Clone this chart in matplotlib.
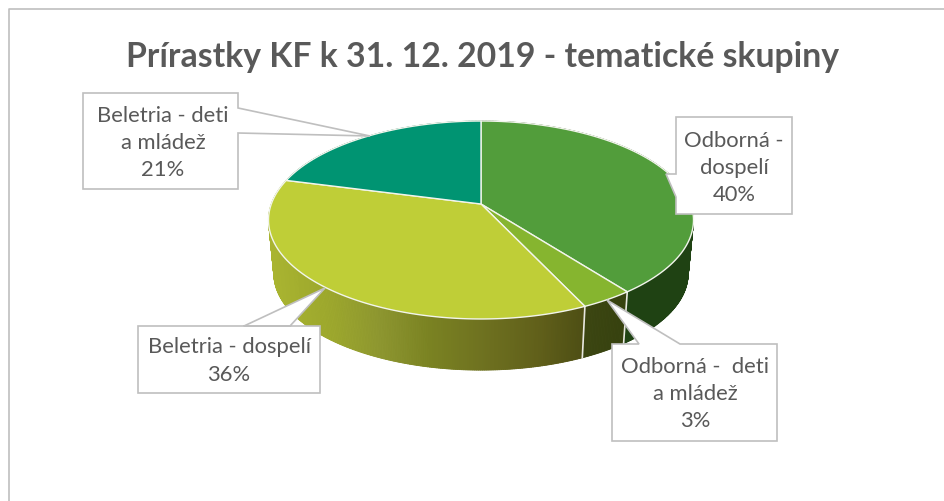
""" Prirastky KF - 3D pie chart with callout labels """

import numpy as np
import matplotlib
matplotlib.use('Agg')
from matplotlib import pyplot as plt
from matplotlib.collections import PolyCollection
from matplotlib.colors import to_rgb

TITLE = 'Prírastky KF k 31. 12. 2019 - tematické skupiny'
LABELS = ['Odborná -\ndospelí', 'Odborná -  deti\na mládež', 'Beletria - dospelí', 'Beletria - deti\na mládež']
VALUES = [39.6, 3.45, 36.05, 20.9]
TOP_COLORS = ['#529D3B', '#86B52F', '#BFCE37', '#009472']

# wall shading, (x pixel, colour)
WALL_STOPS = [
    [(480, '#1F4213'), (700, '#1F4213')],
    [(580, '#3D4713'), (630, '#37420F')],
    [(270, '#A9B430'), (330, '#9DA82E'), (380, '#8D9630'), (430, '#7A8222'), (480, '#6F7220'), (540, '#605F1A'), (585, '#4D4E14')],
    [(270, '#006B52'), (700, '#006B52')],
]

# callouts: box (x0, y0, x1, y1), outline with the pointer, text centre
CALLOUTS = [
    ((676, 118, 792, 215), [(676, 175), (666, 175), (676, 198)], (734, 168)),
    ((612, 345, 777, 442), [(680, 345), (607, 301), (639, 345)], (695, 394)),
    ((138, 327, 320, 394), [(244, 327), (325, 289), (290, 327)], (229, 361)),
    ((83, 94, 238, 190), [(238, 109), (370, 137), (238, 134)], (163, 143)),
]

CX, CY = 481, 205
RX, RY, PERSP = 209.7, 96.4, 0.1616
WALL_SCALE, WALL_DROP = 0.975, 54
GREY = '#BFBFBF'
TEXT_COLOR = '#595959'

plt.rcParams['font.family'] = ['Lato', 'DejaVu Sans']


def project(theta, radius=1.0):
    """ pie angle (clockwise from the top, radians) to image pixels """
    u, v = radius * np.sin(theta), radius * np.cos(theta)
    w = 1 + PERSP * v
    return CX + RX * u / w, CY - RY * v / w


def wall_edge(theta):
    x, y = project(theta)
    return CX + (x - CX) * WALL_SCALE, CY + (y - CY) * WALL_SCALE + WALL_DROP


def wall_color(x, stops):
    xs = [s[0] for s in stops]
    rgb = np.array([to_rgb(s[1]) for s in stops])
    return [np.interp(x, xs, rgb[:, i]) for i in range(3)]


def callout(ax, box, pointer):
    x0, y0, x1, y1 = box
    px, py = pointer[0]
    if py == y0:
        # pointer on the top side, walking right to left
        pts = [(x0, y0)] + pointer[::-1] + [(x1, y0), (x1, y1), (x0, y1)]
    elif px == x0:
        pts = [(x0, y0), (x1, y0), (x1, y1), (x0, y1)] + pointer[::-1]
    else:
        pts = [(x0, y0), (x1, y0)] + pointer + [(x1, y1), (x0, y1)]
    xy = np.array(pts)
    ax.fill(xy[:, 0], xy[:, 1], facecolor='white', edgecolor=GREY, linewidth=1.2, zorder=5)


fig = plt.figure(figsize=(9.44, 5.02), dpi=100)
ax = fig.add_axes([0, 0, 1, 1])
ax.set_xlim(0, 944)
ax.set_ylim(502, 0)
ax.axis('off')

# chart frame
ax.plot([944, 9, 9], [10, 10, 502], color=GREY, linewidth=1.2, zorder=1)

edges = np.cumsum([0] + VALUES) / sum(VALUES) * 2 * np.pi

# walls first, the tops hide what is at the back
for i in range(len(VALUES)):
    th = np.linspace(edges[i], edges[i + 1], int(VALUES[i] * 8) + 2)
    xt, yt = project(th)
    xw, yw = wall_edge(th)
    ax.fill(np.r_[xt, xw[::-1]], np.r_[yt, yw[::-1]], facecolor=WALL_STOPS[i][len(WALL_STOPS[i]) // 2][1],
            edgecolor='none', zorder=2)
    strips, colors = [], []
    for j in range(len(th) - 1):
        strips.append([(xt[j], yt[j]), (xt[j + 1], yt[j + 1]), (xw[j + 1], yw[j + 1]), (xw[j], yw[j])])
        colors.append(wall_color((xt[j] + xt[j + 1]) / 2, WALL_STOPS[i]))
    ax.add_collection(PolyCollection(strips, facecolors=colors, edgecolors=colors,
                                     linewidths=0.6, zorder=2))

# white lines between the wall pieces
for e in edges[1:3]:
    xa, ya = project(e)
    xb, yb = wall_edge(e)
    ax.plot([xa, xb], [ya, yb], color='#E8E8E0', linewidth=1.2, zorder=3)

# top of the pie
for i in range(len(VALUES)):
    th = np.linspace(edges[i], edges[i + 1], int(VALUES[i] * 8) + 2)
    x, y = project(th)
    ax.fill(np.r_[CX, x], np.r_[CY, y], facecolor=TOP_COLORS[i], edgecolor='#F2F5EC',
            linewidth=1.0, zorder=4)

for i, (box, pointer, center) in enumerate(CALLOUTS):
    callout(ax, box, pointer)
    label = '%s\n%.0f%%' % (LABELS[i], VALUES[i])
    ax.text(center[0], center[1], label, ha='center', va='center', fontsize=15.8,
            color=TEXT_COLOR, linespacing=1.45, zorder=6)

ax.text(482, 57, TITLE, ha='center', va='center', fontsize=24.3, fontweight='bold',
        color=TEXT_COLOR, zorder=6)

fig.savefig('out.png', dpi=100)
